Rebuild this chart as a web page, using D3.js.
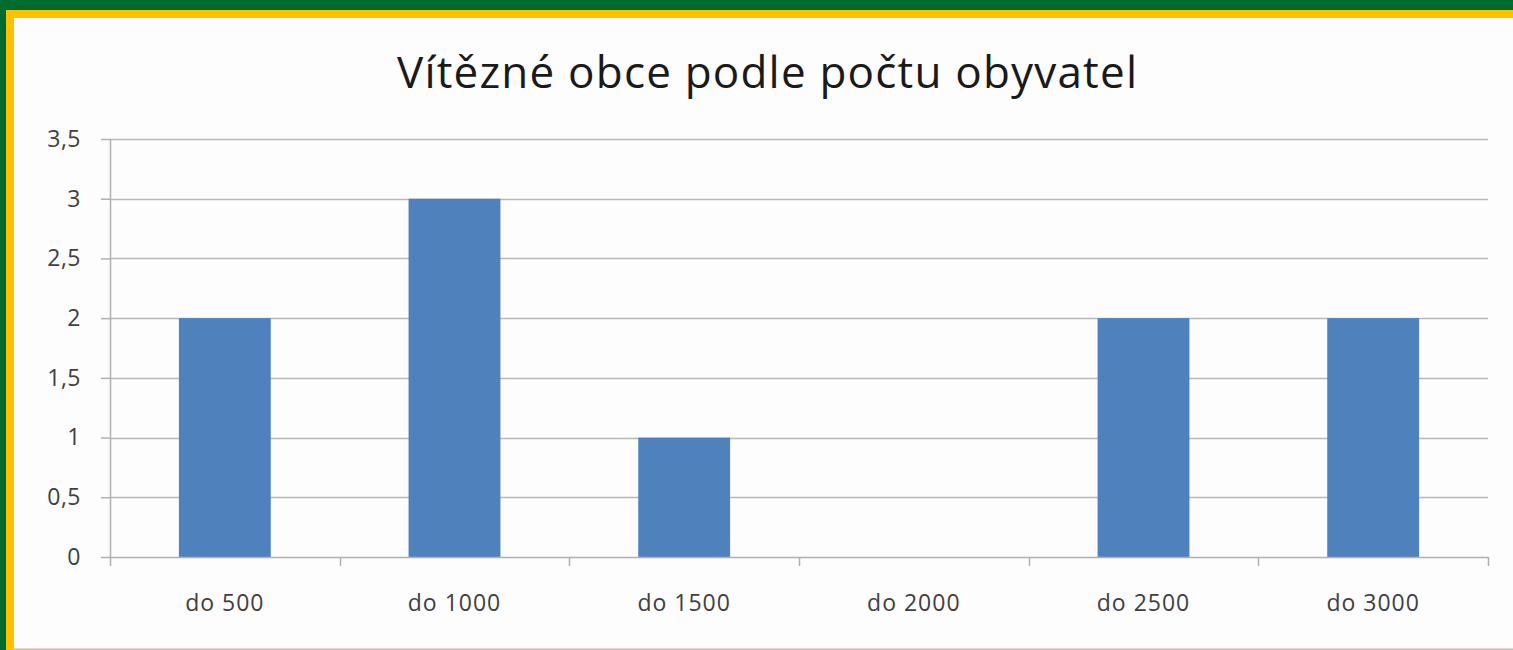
<!DOCTYPE html>
<html>
<head>
<meta charset="utf-8">
<script src="https://cdn.jsdelivr.net/npm/d3@7"></script>
<style>
  body { margin: 0; background: #fff; }
  svg { display: block; }
</style>
</head>
<body>
<svg width="1513" height="650"></svg>
<script>
var categories = ["do 500", "do 1000", "do 1500", "do 2000", "do 2500", "do 3000"];
var values = [2, 3, 1, 0, 2, 2];
var yTicks = [0, 0.5, 1, 1.5, 2, 2.5, 3, 3.5];
var title = "Vítězné obce podle počtu obyvatel";

var svg = d3.select("svg"),
  margin = {top: 139, right: 25, bottom: 93, left: 110},
  width = 1513 - margin.left - margin.right,
  height = 650 - margin.top - margin.bottom;

// frame: green band, yellow band, white panel
svg.append("rect").attr("width", 1513).attr("height", 650).attr("fill", "#006b2f");
svg.append("rect").attr("x", 6).attr("y", 10).attr("width", 1507).attr("height", 640).attr("fill", "#ffc000");
svg.append("rect").attr("x", 14).attr("y", 18).attr("width", 1499).attr("height", 630).attr("fill", "#fdfdfd");
svg.append("line").attr("x1", 14).attr("x2", 1513).attr("y1", 648.5).attr("y2", 648.5)
  .attr("stroke", "#ddd");

var g = svg.append("g").attr("transform", "translate(" + margin.left + "," + margin.top + ")");

var x = d3.scaleBand().domain(categories).range([0, width]);
var y = d3.scaleLinear().domain([0, 3.5]).range([height, 0]);

// gridlines
g.append("g")
  .selectAll("line")
  .data(yTicks.slice(1))
  .enter().append("line")
    .attr("x1", 0)
    .attr("x2", width)
    .attr("y1", function(d) { return Math.round(y(d)) + 0.5; })
    .attr("y2", function(d) { return Math.round(y(d)) + 0.5; })
    .attr("stroke", "#b9b9b9")
    .attr("stroke-width", 1.5);

// bars
var barW = x.bandwidth() * 0.4;
g.append("g")
  .selectAll("rect")
  .data(values)
  .enter().append("rect")
    .attr("x", function(d, i) { return x(categories[i]) + (x.bandwidth() - barW) / 2; })
    .attr("y", function(d) { return y(d); })
    .attr("width", barW)
    .attr("height", function(d) { return y(0) - y(d); })
    .attr("fill", "#4f81bd");

// y axis
var yAxis = g.append("g")
  .call(d3.axisLeft(y).tickValues(yTicks).tickSize(9).tickPadding(20)
    .tickFormat(function(d) { return String(d).replace(".", ","); }));
yAxis.select(".domain").attr("stroke", "#b0b0b0").attr("stroke-width", 1.5).attr("d", "M0.5," + height + "V0");
yAxis.selectAll(".tick line").attr("stroke", "#b0b0b0").attr("stroke-width", 1.5);
yAxis.selectAll(".tick text")
  .attr("fill", "#404040")
  .style("font-family", "'Open Sans', sans-serif")
  .style("font-size", "23px")
  .style("letter-spacing", "0.5px");

// x axis
var xAxis = g.append("g")
  .attr("transform", "translate(0," + height + ")")
  .call(d3.axisBottom(x).tickSize(0).tickPadding(38));
xAxis.select(".domain").attr("stroke", "#b0b0b0").attr("stroke-width", 1.5).attr("d", "M0," + 0.5 + "H" + width);
xAxis.selectAll(".tick text")
  .attr("fill", "#404040")
  .style("font-family", "'Open Sans', sans-serif")
  .style("font-size", "23px")
  .style("letter-spacing", "1px");

// category separators below x axis
g.append("g")
  .selectAll("line")
  .data(d3.range(categories.length + 1))
  .enter().append("line")
    .attr("x1", function(i) { return Math.round(i * x.step()) + 0.5; })
    .attr("x2", function(i) { return Math.round(i * x.step()) + 0.5; })
    .attr("y1", height)
    .attr("y2", height + 9)
    .attr("stroke", "#b0b0b0")
    .attr("stroke-width", 1.5);

// title
svg.append("text")
  .text(title)
  .attr("x", 767)
  .attr("y", 88)
  .attr("text-anchor", "middle")
  .attr("fill", "#1a1a1a")
  .attr("textLength", 740)
  .attr("lengthAdjust", "spacing")
  .style("font-family", "'Open Sans', sans-serif")
  .style("font-size", "44px");
</script>
</body>
</html>
